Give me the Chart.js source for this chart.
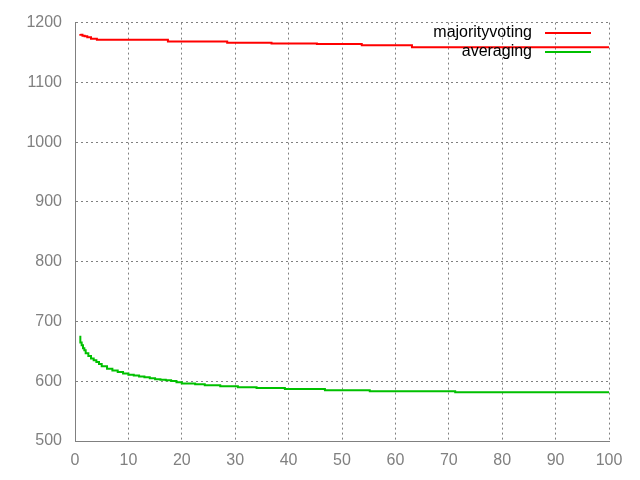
<!DOCTYPE html>
<html>
<head>
<meta charset="utf-8">
<script src="https://cdn.jsdelivr.net/npm/chart.js@4/dist/chart.umd.min.js"></script>
<style>
  html, body { margin: 0; padding: 0; background: #fff; }
  #wrap { width: 640px; height: 480px; }
</style>
</head>
<body>
<div id="wrap"><canvas id="chart" width="640" height="480"></canvas></div>
<script>
// Datenreihen (Stufen: x = Beginn der Stufe, y = Wert)
const SERIES_NAMES = ['majorityvoting', 'averaging'];

const majorityX = [1, 1.4, 1.8, 2.3, 3, 4.1, 17.4, 28.5, 36.8, 45.3, 53.7, 63.1, 85.2, 100];
const majorityY = [1181, 1179.5, 1178, 1177, 1175.5, 1173, 1171.4, 1168.5, 1166.3, 1165.1, 1164, 1162.3, 1158.8, 1158.8];

const averagingX = [1, 1.25, 1.5, 1.75, 2, 2.5, 3, 3.5, 4, 4.5, 5, 6, 7, 8, 9, 10, 11, 12, 13, 14, 15, 16, 17, 18, 19, 20, 22.5, 24.3, 27.2, 30.5, 34, 39.3, 46.8, 55.2, 71.2, 98.5, 100];
const averagingY = [676, 665, 660, 655, 652, 647, 642, 638, 635, 632, 629, 625, 621, 618, 615.5, 613, 611, 609.5, 608, 606.5, 605, 603.5, 602.5, 601.5, 600.5, 598.5, 596, 594.8, 593.4, 591.8, 590, 588.5, 586.8, 585, 583.3, 581.5, 581.5];

const X_MIN = 0, X_MAX = 100, X_STEP = 10;
const Y_MIN = 500, Y_MAX = 1200, Y_STEP = 100;

const COLORS = ['#ff0000', '#00c000'];
const AXIS_GRAY = '#808080';
const FONT = 'Liberation Sans, Arial, sans-serif';

function toPoints(xs, ys) {
    return xs.map((x, i) => ({ x: x, y: ys[i] }));
}

// Legende wie bei gnuplot: Text rechtsbuendig, Linie daneben
const keyPlugin = {
    id: 'gnuKey',
    afterDraw(chart) {
        const ctx = chart.ctx;
        ctx.save();
        ctx.font = '16px ' + FONT;
        ctx.textAlign = 'right';
        ctx.textBaseline = 'middle';
        chart.data.datasets.forEach((ds, i) => {
            const y = 33 + i * 19;
            ctx.fillStyle = '#000';
            ctx.fillText(ds.label, 532, y);
            ctx.strokeStyle = ds.borderColor;
            ctx.lineWidth = 2;
            ctx.beginPath();
            ctx.moveTo(545, y);
            ctx.lineTo(591, y);
            ctx.stroke();
        });
        ctx.restore();
    }
};

const ctx = document.getElementById('chart').getContext('2d');
new Chart(ctx, {
    type: 'line',
    data: {
        datasets: [
            {
                label: SERIES_NAMES[0],
                data: toPoints(majorityX, majorityY),
                borderColor: COLORS[0],
                borderWidth: 2,
                pointRadius: 0,
                stepped: 'after',
                fill: false
            },
            {
                label: SERIES_NAMES[1],
                data: toPoints(averagingX, averagingY),
                borderColor: COLORS[1],
                borderWidth: 2,
                pointRadius: 0,
                stepped: 'after',
                fill: false
            }
        ]
    },
    options: {
        responsive: false,
        animation: false,
        layout: { padding: { left: 0, right: 31, top: 20, bottom: 0 } },
        plugins: {
            legend: { display: false },
            tooltip: { enabled: false }
        },
        scales: {
            x: {
                type: 'linear',
                min: X_MIN,
                max: X_MAX,
                afterFit: s => { s.height = 39; },
                ticks: { stepSize: X_STEP, color: AXIS_GRAY, font: { family: FONT, size: 16 }, padding: 10, maxRotation: 0,
                         callback: v => String(v) },
                grid: { color: AXIS_GRAY, drawTicks: false, lineWidth: 1 },
                border: { color: AXIS_GRAY, dash: [2, 3] }
            },
            y: {
                min: Y_MIN,
                max: Y_MAX,
                afterFit: s => { s.width = 75; },
                ticks: { stepSize: Y_STEP, color: AXIS_GRAY, font: { family: FONT, size: 16 }, padding: 13,
                         callback: v => String(v) },
                grid: { color: AXIS_GRAY, drawTicks: false, lineWidth: 1 },
                border: { color: AXIS_GRAY, dash: [2, 3] }
            }
        }
    },
    plugins: [keyPlugin]
});
</script>
</body>
</html>
